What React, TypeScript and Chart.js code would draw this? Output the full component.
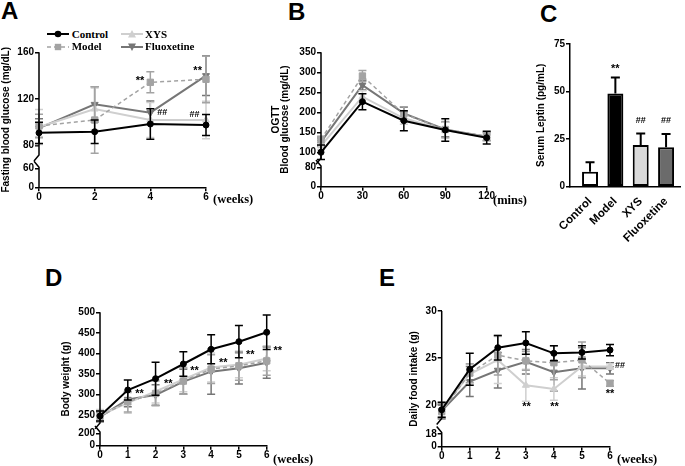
import React, { useEffect, useRef } from 'react';
import { Chart, registerables, LinearScale } from 'chart.js';

const SANS = '"Liberation Sans", Arial, Helvetica, sans-serif';
const SERIF = '"Liberation Serif", "Times New Roman", serif';

// ---------------- Data ----------------
const seriesNames = ['Control', 'Model', 'XYS', 'Fluoxetine'];

// Panel A – fasting blood glucose (mg/dL)
const glucoseWeeks = [0, 2, 4, 6];
const glucoseControl = [91, 92, 98.6, 97.7];
const glucoseModel = [97, 102, 134.3, 136.9];
const glucoseXYS = [96, 111.4, 102, 102];
const glucoseFluoxetine = [95, 115.4, 108.3, 140];
const glucoseControlSD = [9, 10, 13, 9];
const glucoseModelSD = [10, 28.5, 9, 20];
const glucoseXYSSD = [15, 18, 15, 16];
const glucoseFluoxetineSD = [8, 15, 10, 17];
const glucoseTicks = [0, 60, 80, 120, 160];
const glucoseXTicks = [0, 2, 4, 6];
const glucoseMarks: [number, number, string][] = [[3.63, 137.1, '**'], [5.7, 145.7, '**'], [4.43, 108.2, '##'], [5.59, 106.3, '##']];

// Panel B – OGTT blood glucose (mg/dL)
const ogttMinutes = [0, 30, 60, 90, 120];
const ogttControl = [100, 226.6, 179, 155.8, 136.5];
const ogttModel = [132, 290.7, 195.7, 157, 140];
const ogttXYS = [116, 239, 185, 155, 138];
const ogttFluoxetine = [126, 268, 197.4, 157, 139];
const ogttControlSD = [18, 20, 25, 28, 16];
const ogttModelSD = [8, 14, 18, 20, 10];
const ogttXYSSD = [10, 15, 15, 20, 10];
const ogttFluoxetineSD = [10, 12, 15, 18, 10];
const ogttTicks = [0, 80, 100, 150, 200, 250, 300, 350];
const ogttXTicks = [0, 30, 60, 90, 120];

// Panel C – serum leptin (pg/mL)
const leptinGroups = ['Control', 'Model', 'XYS', 'Fluoxetine'];
const leptinValues = [7.9, 49, 21.9, 20.7];
const leptinSD = [4.9, 8.4, 6.1, 7];
const leptinTicks = [0, 25, 50, 75];
const leptinMarks: [number, number, string][] = [[2, 62.9, '**'], [3, 34.6, '##'], [4, 34.6, '##']];

// Panel D – body weight (g)
const weightWeeks = [0, 1, 2, 3, 4, 5, 6];
const weightControl = [248.3, 311.4, 338.9, 374.5, 410.2, 428.7, 451.4];
const weightModel = [247, 283, 303, 333, 362, 370, 382];
const weightXYS = [250, 280, 308, 337, 366, 373, 388];
const weightFluoxetine = [246, 288.7, 299.3, 331.6, 355.9, 364, 377.7];
const weightControlSD = [12, 24, 40, 30, 35, 39, 42];
const weightModelSD = [14, 25, 30, 32, 35, 35, 35];
const weightXYSSD = [14, 25, 28, 30, 35, 32, 30];
const weightFluoxetineSD = [12, 18, 25, 30, 55, 38, 38];
const weightTicks = [0, 200, 250, 300, 350, 400, 450, 500];
const weightMarks: [number, number, string][] = [[1.42, 306.6, '**'], [2.46, 330.8, '**'], [3.4, 362.4, '**'], [4.44, 381.8, '**'], [5.41, 401.2, '**'], [6.4, 410.9, '**']];

// Panel E – daily food intake (g)
const foodWeeks = [0, 1, 2, 3, 4, 5, 6];
const foodControl = [19.5, 23.8, 26.1, 26.6, 25.5, 25.6, 25.85];
const foodModel = [19.3, 23.4, 25.3, 24.7, 24.5, 24.8, 22.3];
const foodXYS = [19.5, 23.3, 24.8, 22.1, 21.7, 24.1, 24.1];
const foodFluoxetine = [19.4, 22.5, 23.7, 24.6, 23.5, 23.9, 23.9];
const foodControlSD = [0.8, 1.7, 1.3, 1.2, 0.8, 0.7, 0.6];
const foodModelSD = [0.8, 1.0, 2.1, 1.0, 1.8, 1.9, 0.3];
const foodXYSSD = [0.8, 1.0, 2.5, 1.7, 1.2, 1.0, 0.3];
const foodFluoxetineSD = [0.8, 1.6, 1.9, 1.3, 2.0, 2.2, 0.6];
const foodTicks = [0, 18, 20, 25, 30];
const foodMarks: [number, number, string][] = [[3.02, 20.1, '**'], [4.02, 20.1, '**'], [6.36, 24.15, '##'], [6.0, 21.4, '**']];

// ---------------- Styles ----------------
const STYLES = [
  { color: '#000000', point: 'circle', rot: 0, r: 3, dash: [] as number[], width: 2 },
  { color: '#A3A3A3', point: 'rect', rot: 0, r: 4.5, dash: [4, 3], width: 1.5 },
  { color: '#CFCFCF', point: 'triangle', rot: 0, r: 4, dash: [] as number[], width: 2 },
  { color: '#767676', point: 'triangle', rot: 180, r: 4, dash: [] as number[], width: 2 },
];
const barFills = ['#FFFFFF', '#000000', '#D9D9D9', '#6B6B6B'];

// ---------------- Broken linear scale ----------------
class BrokenScale extends LinearScale {
  static id = 'broken';
  static defaults = LinearScale.defaults;
  brkFrac(v: number): number {
    const b: any = (this.options as any).brk;
    if (v < b.split) return b.lf0 + ((v - b.lv0) / (b.lv1 - b.lv0)) * (b.lf1 - b.lf0);
    return b.hf0 + ((v - b.hv0) / (b.hv1 - b.hv0)) * (b.hf1 - b.hf0);
  }
  getPixelForValue(v: number) {
    if (v === null || v === undefined) return NaN;
    return this.bottom - this.brkFrac(v) * (this.bottom - this.top);
  }
  getValueForPixel(px: number) {
    const b: any = (this.options as any).brk;
    const f = (this.bottom - px) / (this.bottom - this.top);
    if (f <= (b.lf1 + b.hf0) / 2) return b.lv0 + ((f - b.lf0) / (b.lf1 - b.lf0)) * (b.lv1 - b.lv0);
    return b.hv0 + ((f - b.hf0) / (b.hf1 - b.hf0)) * (b.hv1 - b.hv0);
  }
}

Chart.register(...registerables, BrokenScale as any);

// ---------------- Plugins ----------------
function errorBarPlugin(errs: number[][], capW: number, upOnly: boolean, lw: number) {
  return {
    id: 'errbars',
    afterDatasetDraw(chart: any, args: any) {
      const i = args.index;
      const e = errs[i];
      if (!e) return;
      const ds = chart.data.datasets[i];
      const meta = chart.getDatasetMeta(i);
      const ys = chart.scales.y;
      const ctx = chart.ctx;
      ctx.save();
      ctx.setLineDash([]);
      ctx.strokeStyle = upOnly ? '#000' : ds.borderColor;
      ctx.lineWidth = lw;
      meta.data.forEach((el: any, j: number) => {
        const v = ds.data[j].y;
        const x = el.x;
        const yt = ys.getPixelForValue(v + e[j]);
        const yb = upOnly ? el.y : ys.getPixelForValue(v - e[j]);
        ctx.beginPath();
        ctx.moveTo(x, yb);
        ctx.lineTo(x, yt);
        ctx.moveTo(x - capW / 2, yt);
        ctx.lineTo(x + capW / 2, yt);
        if (!upOnly) {
          ctx.moveTo(x - capW / 2, yb);
          ctx.lineTo(x + capW / 2, yb);
        }
        ctx.stroke();
      });
      ctx.restore();
    },
  };
}

function brokenAxisPlugin(upperEndF: number, lowerTopF: number) {
  return {
    id: 'brokenAxis',
    afterDraw(chart: any) {
      const y = chart.scales.y;
      const ax = chart.chartArea.left;
      const ctx = chart.ctx;
      const H = y.bottom - y.top;
      const yU = y.bottom - upperEndF * H;
      const yL = y.bottom - lowerTopF * H;
      ctx.save();
      ctx.strokeStyle = '#000';
      ctx.lineWidth = 1.5;
      ctx.beginPath();
      ctx.moveTo(ax, y.top);
      ctx.lineTo(ax, yU);
      ctx.lineTo(ax - 5, yU + 6);
      ctx.moveTo(ax - 5, yL - 6);
      ctx.lineTo(ax, yL);
      ctx.lineTo(ax, y.bottom + 0.75);
      ctx.stroke();
      ctx.restore();
    },
  };
}

function marksPlugin(items: [number, number, string][]) {
  return {
    id: 'marks',
    afterDraw(chart: any) {
      const ctx = chart.ctx;
      const xs = chart.scales.x;
      const ys = chart.scales.y;
      ctx.save();
      ctx.fillStyle = '#000';
      ctx.textAlign = 'center';
      ctx.textBaseline = 'middle';
      items.forEach(([x, y, t]) => {
        const star = t.includes('*');
        const fs = star ? 11 : 9;
        ctx.font = `bold ${fs}px ${SANS}`;
        const dy = star ? 0.22 * fs : 0;
        ctx.fillText(t, xs.getPixelForValue(x), ys.getPixelForValue(y) + dy);
      });
      ctx.restore();
    },
  };
}

// ---------------- Config builders ----------------
const tickFont = { family: SANS, size: 10, weight: 'bold' as const };
const catFont = { family: SANS, size: 11.5, weight: 'bold' as const };
const titleFont = { family: SANS, size: 10, weight: 'bold' as const, lineHeight: 1.2 };

function lineConfig(p: any) {
  const datasets = p.series.map((vals: number[], i: number) => {
    const s = STYLES[i];
    return {
      label: seriesNames[i],
      data: p.xs.map((x: number, j: number) => ({ x, y: vals[j] })),
      borderColor: s.color,
      backgroundColor: s.color,
      borderWidth: s.width,
      borderDash: s.dash,
      pointStyle: s.point,
      pointRotation: s.rot,
      pointRadius: s.r,
      pointBackgroundColor: s.color,
      pointBorderColor: s.color,
      pointBorderWidth: 1,
      tension: 0,
      clip: false,
    };
  });
  return {
    type: 'line',
    data: { datasets },
    options: {
      animation: false,
      responsive: false,
      devicePixelRatio: 1,
      events: [],
      layout: { padding: p.pad },
      plugins: { legend: { display: false }, tooltip: { enabled: false } },
      scales: {
        x: {
          type: 'linear',
          offset: false,
          min: p.xs[0],
          max: p.xs[p.xs.length - 1],
          afterBuildTicks: (s: any) => { s.ticks = p.xTicks.map((v: number) => ({ value: v })); },
          afterFit: (s: any) => { s.height = p.xH; },
          ticks: { font: tickFont, color: '#000', padding: 0, maxRotation: 0, autoSkip: false, callback: (v: any) => String(v) },
          grid: { drawOnChartArea: false, tickLength: 4, color: '#000', lineWidth: 1.5 },
          border: { color: '#000', width: 1.5 },
        },
        y: {
          type: 'broken',
          min: p.yTicks[0],
          max: p.yTicks[p.yTicks.length - 1],
          brk: p.brk,
          afterBuildTicks: (s: any) => { s.ticks = p.yTicks.map((v: number) => ({ value: v })); },
          afterFit: (s: any) => { s.width = p.yW; },
          title: { display: true, text: p.title, font: p.titleFont || titleFont, color: '#000', padding: 0 },
          ticks: { font: tickFont, color: '#000', padding: 1, autoSkip: false, callback: (v: any) => String(v) },
          grid: { drawOnChartArea: false, tickLength: 4, color: '#000', lineWidth: 1.5 },
          border: { display: false },
        },
      },
    },
    plugins: [
      errorBarPlugin(p.errs, 8, false, 1.5),
      brokenAxisPlugin(p.axisU, p.axisL),
      marksPlugin(p.marks || []),
    ],
  };
}

function barConfig() {
  return {
    type: 'bar',
    data: {
      datasets: [
        {
          label: 'Serum Leptin',
          data: leptinValues.map((v, i) => ({ x: i + 1, y: v })),
          backgroundColor: barFills,
          borderColor: '#000',
          borderWidth: 2,
          borderSkipped: false,
          barPercentage: 0.63,
          categoryPercentage: 1,
          clip: false,
        },
      ],
    },
    options: {
      animation: false,
      responsive: false,
      devicePixelRatio: 1,
      events: [],
      layout: { padding: { left: 5.7, right: 5, top: 14, bottom: 23.3 } },
      plugins: { legend: { display: false }, tooltip: { enabled: false } },
      scales: {
        x: {
          type: 'linear',
          offset: false,
          min: 0.21,
          max: 4.55,
          afterBuildTicks: (s: any) => { s.ticks = leptinGroups.map((_, i) => ({ value: i + 1 })); },
          afterFit: (s: any) => { s.height = 60; },
          ticks: {
            font: catFont, color: '#000', padding: 0, autoSkip: false, minRotation: 45, maxRotation: 45,
            callback: (v: any) => leptinGroups[Math.round(v) - 1] || '',
          },
          grid: { display: false, offset: false },
          border: { color: '#000', width: 1.5 },
        },
        y: {
          type: 'linear',
          min: 0,
          max: 75,
          afterBuildTicks: (s: any) => { s.ticks = leptinTicks.map((v) => ({ value: v })); },
          afterFit: (s: any) => { s.width = 34.3; },
          title: { display: true, text: 'Serum Leptin (pg/mL)', font: titleFont, color: '#000', padding: 0 },
          ticks: { font: tickFont, color: '#000', padding: 1, autoSkip: false, callback: (v: any) => String(v) },
          grid: { drawOnChartArea: false, tickLength: 4, color: '#000', lineWidth: 1.5 },
          border: { color: '#000', width: 1.5 },
        },
      },
    },
    plugins: [errorBarPlugin([leptinSD], 9, true, 2), marksPlugin(leptinMarks)],
  };
}

// ---------------- Components ----------------
function ChartCanvas(props: { left: number; top: number; width: number; height: number; make: () => any }) {
  const ref = useRef<HTMLCanvasElement | null>(null);
  useEffect(() => {
    const chart = new Chart(ref.current as HTMLCanvasElement, props.make());
    return () => chart.destroy();
  }, []);
  return (
    <canvas
      ref={ref}
      width={props.width}
      height={props.height}
      style={{ position: 'absolute', left: props.left, top: props.top, width: props.width, height: props.height }}
    />
  );
}

function LegendIcon(props: { idx: number; left: number; top: number }) {
  const s = STYLES[props.idx];
  let marker: any = null;
  if (s.point === 'circle') marker = <circle cx={11} cy={5} r={3.3} fill={s.color} />;
  else if (s.point === 'rect') marker = <rect x={7.8} y={1.8} width={6.4} height={6.4} fill={s.color} />;
  else if (s.rot === 0) marker = <polygon points="11,1 15,8.5 7,8.5" fill={s.color} />;
  else marker = <polygon points="7,1.5 15,1.5 11,9" fill={s.color} />;
  return (
    <svg width={22} height={10} style={{ position: 'absolute', left: props.left, top: props.top }}>
      <line x1={0} y1={5} x2={22} y2={5} stroke={s.color} strokeWidth={s.width} strokeDasharray={s.dash.length ? s.dash.join(' ') : undefined} />
      {marker}
    </svg>
  );
}

const letterStyle = (left: number, top: number): any => ({
  position: 'absolute', left, top, font: `bold 24px ${SANS}`, lineHeight: '24px', color: '#000',
});
const legendText = (left: number, center: number): any => ({
  position: 'absolute', left, top: center - 6.5, font: `bold 11px ${SERIF}`, lineHeight: '12px', color: '#000', whiteSpace: 'nowrap',
});
const unitText = (left: number, center: number): any => ({
  position: 'absolute', left, top: center - 7.5, font: `bold 12.5px ${SERIF}`, lineHeight: '14px', color: '#000', whiteSpace: 'nowrap',
});

export default function App() {
  return (
    <div style={{ position: 'relative', width: 685, height: 466, background: '#fff', overflow: 'hidden' }}>
      <style>{'body{margin:0;}'}</style>

      <ChartCanvas
        left={0} top={40} width={262} height={180}
        make={() => lineConfig({
          xs: glucoseWeeks, xTicks: glucoseXTicks,
          series: [glucoseControl, glucoseModel, glucoseXYS, glucoseFluoxetine],
          errs: [glucoseControlSD, glucoseModelSD, glucoseXYSSD, glucoseFluoxetineSD],
          yTicks: glucoseTicks,
          brk: { split: 68, lv0: 0, lf0: 0, lv1: 60, lf1: 0.1407, hv0: 80, hf0: 0.308, hv1: 160, hf1: 1 },
          axisU: 0.239, axisL: 0.148,
          pad: { left: 0, right: 56, top: 12.3, bottom: 14.7 }, yW: 39, xH: 18,
          title: 'Fasting blood glucose (mg/dL)',
          marks: glucoseMarks,
        })}
      />

      <ChartCanvas
        left={265} top={40} width={275} height={180}
        make={() => lineConfig({
          xs: ogttMinutes, xTicks: ogttXTicks,
          series: [ogttControl, ogttModel, ogttXYS, ogttFluoxetine],
          errs: [ogttControlSD, ogttModelSD, ogttXYSSD, ogttFluoxetineSD],
          yTicks: ogttTicks,
          brk: { split: 81, lv0: 0, lf0: 0, lv1: 80, lf1: 0.144, hv0: 100, hf0: 0.256, hv1: 350, hf1: 1 },
          axisU: 0.211, axisL: 0.154,
          pad: { left: 6, right: 53.3, top: 12.3, bottom: 15.3 }, yW: 50, xH: 18,
          title: ['OGTT', 'Blood glucose (mg/dL)'],
          titleFont: { family: SANS, size: 10, weight: 'bold', lineHeight: 0.95 },
          marks: [],
        })}
      />

      <ChartCanvas left={530} top={30} width={155} height={240} make={barConfig} />

      <ChartCanvas
        left={55} top={300} width={250} height={166}
        make={() => lineConfig({
          xs: weightWeeks, xTicks: weightWeeks,
          series: [weightControl, weightModel, weightXYS, weightFluoxetine],
          errs: [weightControlSD, weightModelSD, weightXYSSD, weightFluoxetineSD],
          yTicks: weightTicks,
          brk: { split: 220, lv0: 0, lf0: 0, lv1: 200, lf1: 0.093, hv0: 250, hf0: 0.228, hv1: 500, hf1: 1 },
          axisU: 0.171, axisL: 0.103,
          pad: { left: 5.7, right: 38.3, top: 12.3, bottom: 4.3 }, yW: 39.3, xH: 16,
          title: 'Body weight (g)',
          marks: weightMarks,
        })}
      />

      <ChartCanvas
        left={400} top={300} width={285} height={166}
        make={() => lineConfig({
          xs: foodWeeks, xTicks: foodWeeks,
          series: [foodControl, foodModel, foodXYS, foodFluoxetine],
          errs: [foodControlSD, foodModelSD, foodXYSSD, foodFluoxetineSD],
          yTicks: foodTicks,
          brk: { split: 18.3, lv0: 0, lf0: 0, lv1: 18, lf1: 0.0936, hv0: 20, hf0: 0.307, hv1: 30, hf1: 1 },
          axisU: 0.208, axisL: 0.105,
          pad: { left: 8, right: 75, top: 11, bottom: 3.3 }, yW: 33.7, xH: 16,
          title: 'Daily food intake (g)',
          marks: foodMarks,
        })}
      />

      {/* Panel letters */}
      <div style={letterStyle(1, -1.4)}>A</div>
      <div style={letterStyle(288, 0.2)}>B</div>
      <div style={letterStyle(540, 1.9)}>C</div>
      <div style={letterStyle(45, 266)}>D</div>
      <div style={letterStyle(379, 266)}>E</div>

      {/* Legend for panel A */}
      <LegendIcon idx={0} left={47} top={29.3} />
      <div style={legendText(71.7, 34.3)}>Control</div>
      <LegendIcon idx={1} left={47} top={41.7} />
      <div style={legendText(71.7, 46.7)}>Model</div>
      <LegendIcon idx={2} left={120.7} top={29.3} />
      <div style={legendText(145, 34.3)}>XYS</div>
      <LegendIcon idx={3} left={120.7} top={41.7} />
      <div style={legendText(145, 46.7)}>Fluoxetine</div>

      {/* Axis units */}
      <div style={unitText(213, 199)}>(weeks)</div>
      <div style={unitText(493, 200)}>(mins)</div>
      <div style={unitText(273, 459)}>(weeks)</div>
      <div style={unitText(617, 459)}>(weeks)</div>
    </div>
  );
}
